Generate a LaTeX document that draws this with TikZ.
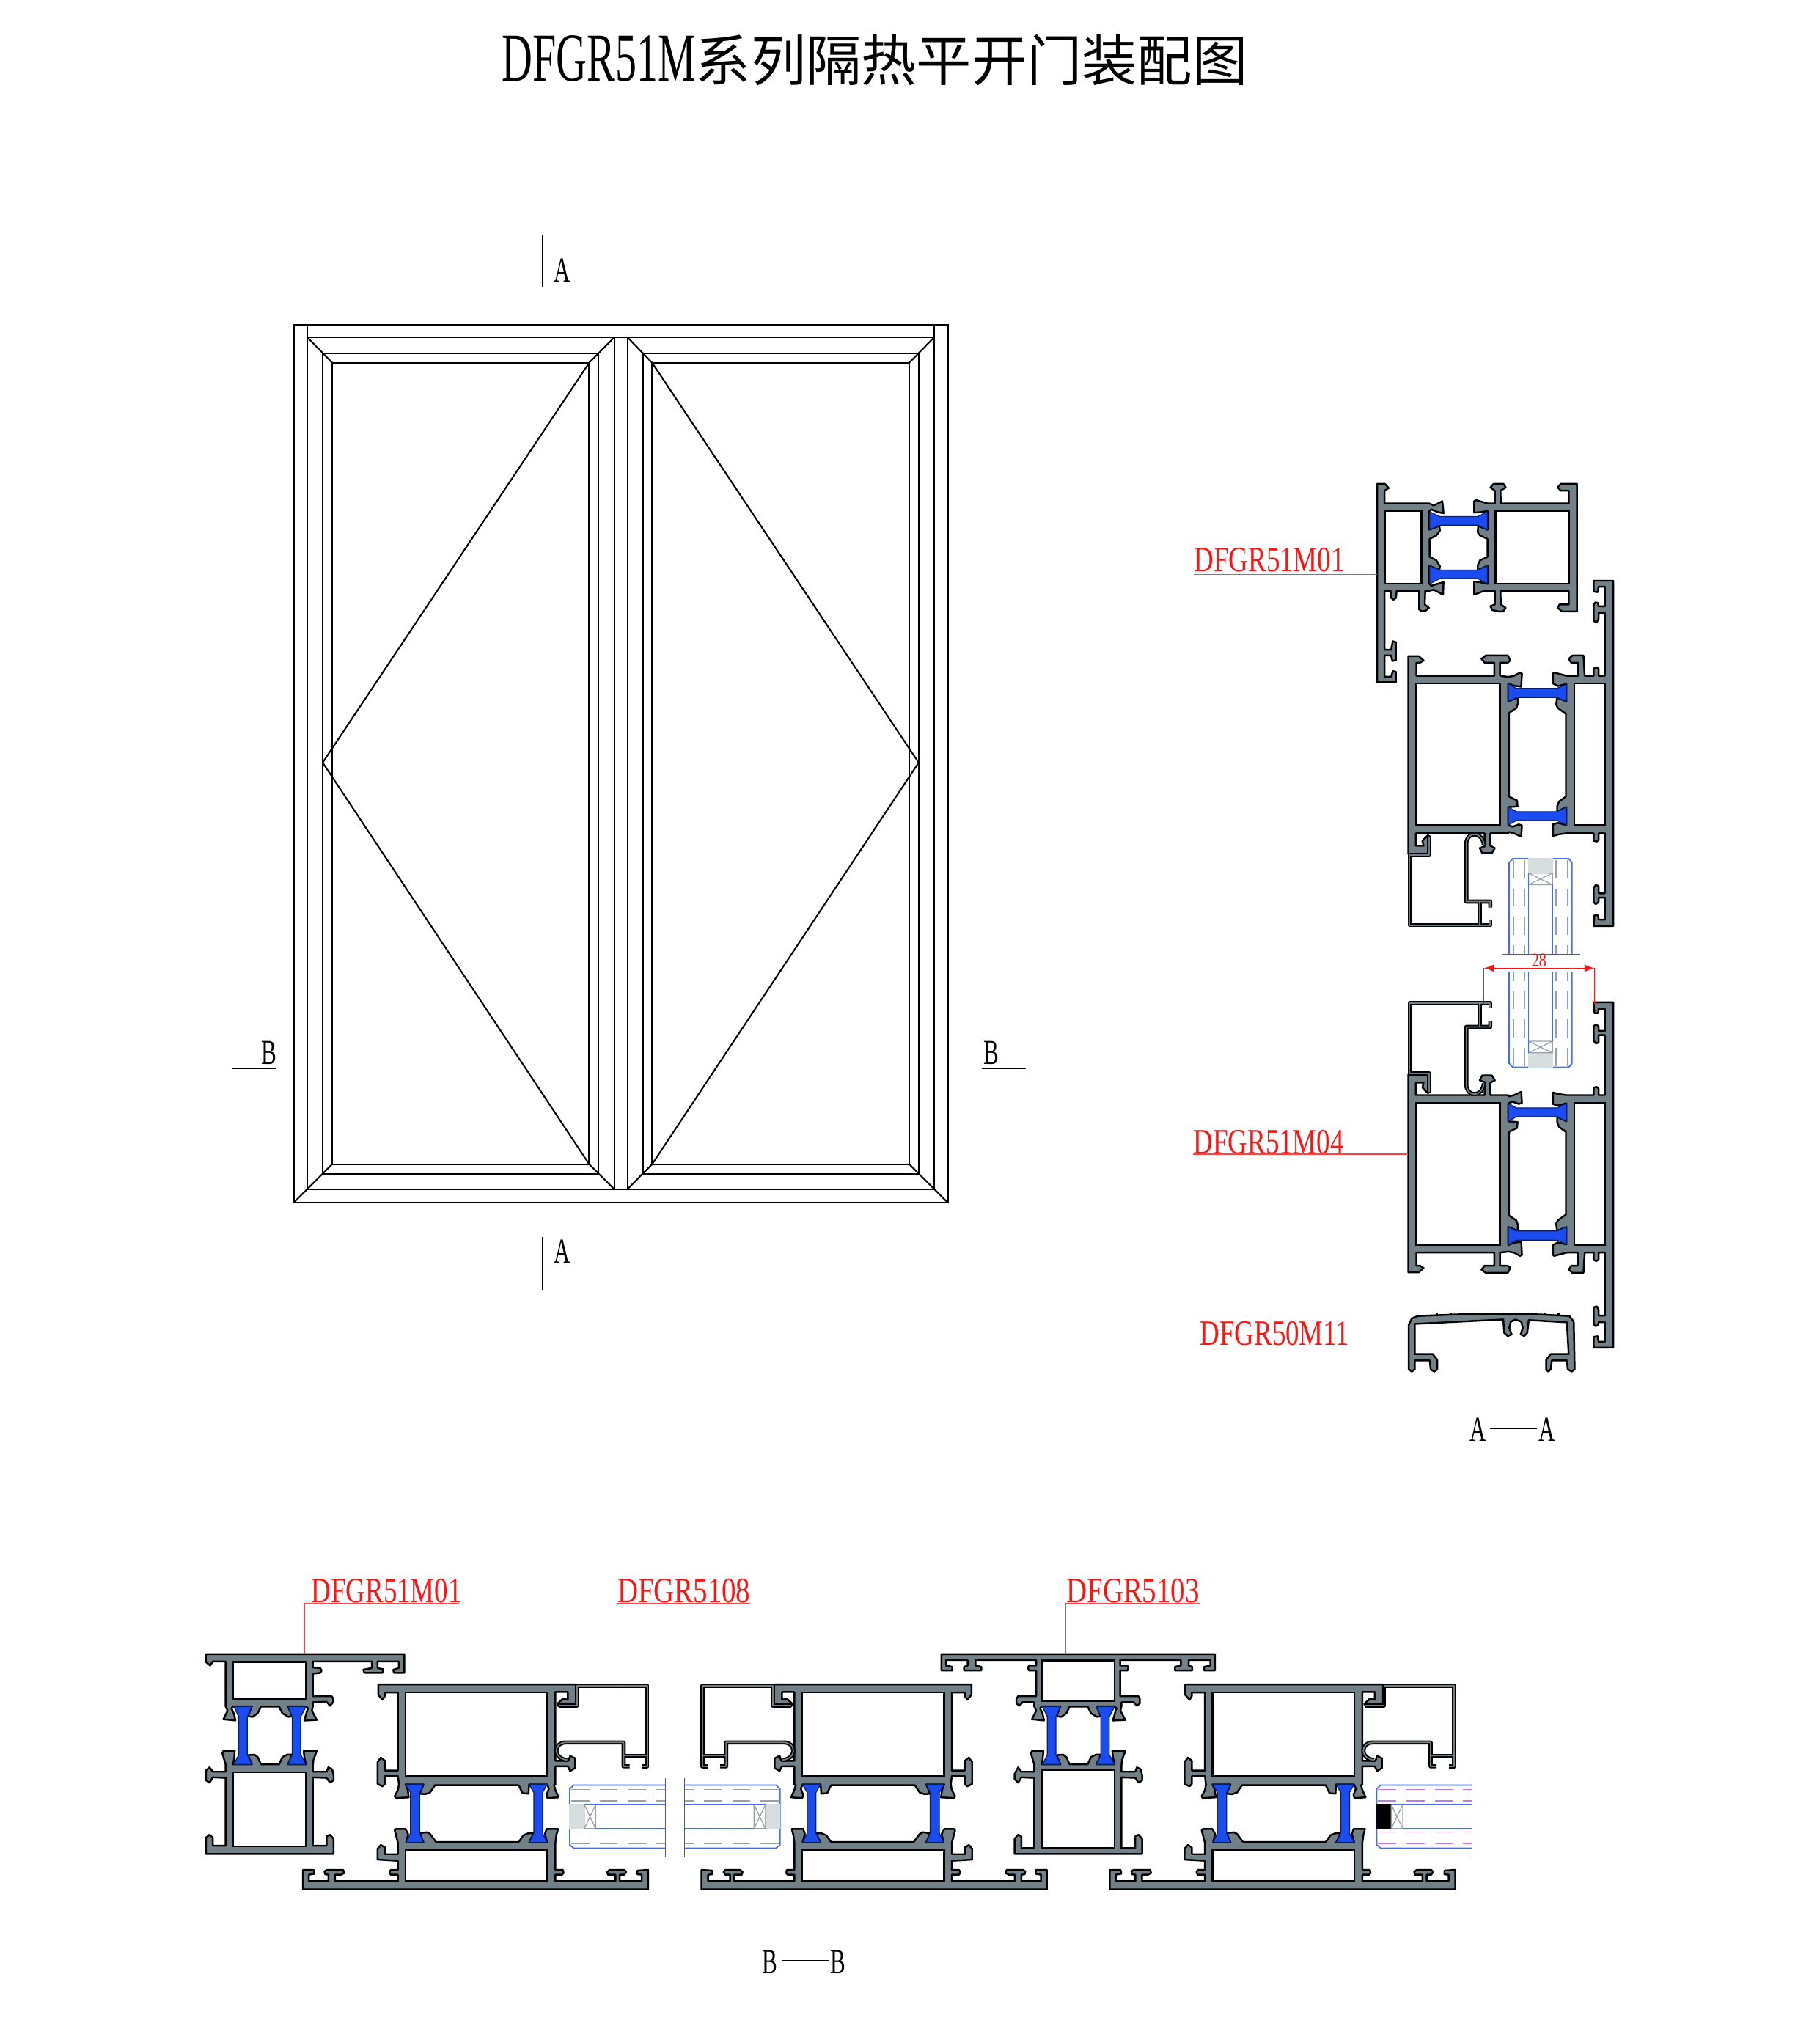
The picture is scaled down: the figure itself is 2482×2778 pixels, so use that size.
\documentclass[tikz,border=0pt]{standalone}
\usepackage{fontspec}
\setmainfont{Liberation Serif}
\newfontfamily\cjk{Noto Sans CJK SC}
\newfontfamily\titlefont[FakeStretch=0.62]{Liberation Serif}
\newfontfamily\partfont[FakeStretch=0.76]{Liberation Serif}
\newfontfamily\partwide[FakeStretch=0.80]{Liberation Serif}
\newfontfamily\secfont[FakeStretch=0.65]{Liberation Serif}
\definecolor{alugray}{RGB}{114,129,135}
\definecolor{breakblue}{RGB}{26,76,240}
\definecolor{glassblue}{RGB}{70,110,235}
\definecolor{glassblock}{RGB}{214,222,222}
\definecolor{dashgray}{RGB}{150,160,165}
\definecolor{dashpurple}{RGB}{190,120,240}
\definecolor{partred}{RGB}{255,20,20}
\tikzset{
	alu/.style={fill=alugray,draw=black,line width=0.7pt,line join=round},
	chamber/.style={fill=white,draw=black,line width=0.7pt},
	strip/.style={fill=breakblue,draw=black!60!breakblue,line width=0.35pt,line join=round},
	beadout/.style={draw=black,line width=1.6pt,line join=round},
	beadin/.style={draw=alugray,line width=0.5pt,line join=round},
	glassline/.style={draw=glassblue,line width=0.5pt},
	spacer/.style={draw=dashgray,line width=0.35pt},
	dashline/.style={line width=0.4pt,dash pattern=on 7pt off 4pt},
	breakline/.style={draw=partred,line width=0.35pt},
	leader/.style={draw=partred!80,line width=0.35pt},
	elev/.style={draw=black,line width=0.6pt},
	partlabel/.style={inner sep=0pt,anchor=south west,text=partred,font=\fontsize{13.8}{14}\selectfont\partfont},
	partlabelwide/.style={partlabel,font=\fontsize{13.8}{14}\selectfont\partwide},
	seclabel/.style={inner sep=0pt,font=\fontsize{13.6}{14}\selectfont\secfont},
	secline/.style={draw=black,line width=0.6pt},
	bbplain/.style={x={(0.004464cm,0cm)},y={(0cm,-0.003333cm)}},
	bbflip/.style={x={(-0.004464cm,0cm)},y={(0cm,-0.003333cm)}},
	aadown/.style={x={(0cm,-0.004464cm)},y={(0.003333cm,0cm)}},
	aaup/.style={x={(0cm,0.004464cm)},y={(0.003333cm,0cm)}},
	capview/.style={x={(0.004082cm,0cm)},y={(0cm,-0.004337cm)}}
}
\newcommand{\alupoly}[1]{\edef\polycmd{\noexpand\filldraw[alu] plot coordinates {#1} -- cycle;}\polycmd}
\newcommand{\railtop}{(132,545) (132,562) (129,580) (144,618) (106,620) (111,595) (117,570) (111,562) (56,562) (69,603) (57,605) (39,590) (29,563) (-26,563) (-36,590) (-51,605) (-66,603) (-54,562) (-111,562) (-116,570) (-108,595) (-104,620) (-141,615) (-128,580) (-134,562)}
\newcommand{\railbottom}{(-134,800) (-144,755) (-141,745) (-106,745) (-108,775) (-111,800) (-54,800) (-66,762) (-46,760) (-36,770) (-26,800) (29,800) (39,770) (54,760) (69,760) (56,800) (111,800) (106,770) (104,745) (144,745) (134,780) (132,805)}
\newcommand{\stripsframe}{
	\filldraw[strip] plot coordinates {(-109,563) (-54,563) (-68,605) (-68,760) (-54,800) (-109,800) (-94,760) (-94,605)} -- cycle;
	\filldraw[strip] plot coordinates {(56,563) (111,563) (95,605) (95,760) (111,800) (56,800) (69,760) (69,605)} -- cycle;
}
\newcommand{\frameone}{
	\alupoly{(-194,348) (411,348) (411,425) (379,425) (377,412) (394,405) (394,378) (329,378) (329,405) (346,410) (344,425) (289,425) (286,412) (312,405) (312,378) (132,378) (132,403) (154,405) (159,415) (154,425) (132,428) (132,520) (189,520) (194,530) (194,545) (184,560) (174,543) \railtop (-134,378) (-173,378) (-181,395) (-194,380)}
	\alupoly{\railbottom (132,830) (174,830) (179,812) (191,820) (195,845) (195,865) (184,875) (174,855) (132,853) (132,1133) (174,1133) (174,1095) (184,1088) (195,1105) (195,1167) (-194,1167) (-194,1100) (-183,1088) (-173,1100) (-173,1133) (-134,1133) (-134,855) (-173,853) (-183,875) (-194,865) (-194,825) (-183,812) (-173,830) (-134,830)}
	\filldraw[chamber] (-111,380) rectangle (111,530);
	\filldraw[chamber] (-111,833) rectangle (111,1135);
	\stripsframe
}
\newcommand{\framemid}{
	\alupoly{(-417,348) (417,348) (417,415) (384,415) (384,400) (403,395) (403,372) (337,372) (337,395) (348,400) (348,415) (295,415) (295,400) (313,395) (313,372) (128,372) (128,395) (150,395) (153,405) (150,415) (128,415) (128,520) (183,520) (188,530) (188,550) (179,560) (169,545) \railtop (-134,545) (-169,545) (-179,560) (-188,550) (-188,530) (-183,520) (-128,520) (-128,415) (-150,415) (-153,405) (-150,395) (-128,395) (-128,372) (-313,372) (-313,395) (-295,400) (-295,415) (-348,415) (-348,400) (-337,395) (-337,372) (-403,372) (-403,395) (-384,400) (-384,415) (-417,415)}
	\alupoly{\railbottom (132,830) (174,830) (179,812) (191,820) (195,845) (195,865) (184,875) (174,855) (132,853) (132,1143) (174,1143) (174,1095) (184,1088) (195,1105) (195,1167) (-194,1167) (-194,1105) (-183,1088) (-173,1095) (-173,1143) (-134,1143) (-134,855) (-173,853) (-183,875) (-194,860) (-194,840) (-183,812) (-173,830) (-134,830)}
	\filldraw[chamber] (-111,374) rectangle (111,540);
	\filldraw[chamber] (-111,822) rectangle (111,1143);
	\stripsframe
}
\newcommand{\sashprofile}{
	\alupoly{(572,472) (1175,472) (1175,562) (1122,562) (1118,552) (1135,530) (1150,535) (1150,503) (1112,503) (1112,785) (1152,785) (1157,765) (1172,775) (1172,815) (1157,827) (1150,808) (1112,808) (1112,882) (1108,885) (1112,905) (1122,935) (1088,938) (1085,925) (1092,900) (1087,882) (1032,882) (1030,920) (1012,918) (1000,885) (745,885) (730,915) (715,922) (698,920) (710,882) (655,882) (662,905) (665,935) (625,938) (622,930) (632,905) (635,882) (632,848) (592,848) (592,880) (585,890) (570,880) (570,790) (580,772) (592,785) (592,825) (632,825) (632,505) (592,505) (592,520) (585,535) (572,515)}
	\alupoly{(632,1122) (622,1070) (625,1065) (655,1065) (663,1085) (657,1120) (710,1120) (698,1082) (720,1078) (730,1085) (748,1118) (1000,1118) (1015,1090) (1030,1082) (1046,1082) (1032,1120) (1087,1120) (1080,1085) (1085,1065) (1120,1065) (1115,1090) (1112,1120) (1112,1232) (1135,1232) (1137,1245) (1132,1252) (1112,1252) (1112,1278) (1295,1278) (1295,1252) (1272,1252) (1270,1240) (1278,1232) (1322,1232) (1328,1240) (1322,1252) (1308,1252) (1308,1278) (1375,1278) (1375,1252) (1362,1250) (1362,1235) (1395,1232) (1395,1312) (342,1312) (342,1232) (375,1232) (377,1248) (360,1252) (360,1278) (420,1278) (420,1252) (410,1250) (408,1238) (415,1232) (465,1232) (468,1245) (458,1252) (440,1252) (440,1278) (632,1278) (632,1252) (610,1252) (606,1242) (610,1232) (632,1232) (632,1195) (570,1190) (570,1145) (580,1130) (592,1140) (592,1168) (632,1168)}
	\filldraw[chamber] (655,505) rectangle (1088,848);
	\filldraw[chamber] (655,1152) rectangle (1088,1278);
	\filldraw[strip] plot coordinates {(655,882) (710,882) (698,915) (698,1082) (710,1120) (657,1120) (670,1082) (670,915)} -- cycle;
	\filldraw[strip] plot coordinates {(1032,882) (1087,882) (1073,915) (1073,1082) (1087,1120) (1032,1120) (1046,1082) (1046,915)} -- cycle;
	\foreach \beadstyle in {beadout,beadin}{
		\draw[\beadstyle] (1122,558) -- (1178,558) -- (1178,478) -- (1392,478) -- (1392,808) -- (1376,808);
		\draw[\beadstyle] (1392,765) -- (1320,765);
		\draw[\beadstyle] (1338,808) -- (1320,808) -- (1320,710) -- (1145,710) .. controls (1125,710) and (1115,725) .. (1115,745) .. controls (1115,765) and (1130,780) .. (1148,782);
	}
}
\newcommand{\glassunit}[2]{
	\draw[glassline] (1447,885) -- (1168,885) -- (1156,900) -- (1156,1130) -- (1168,1143) -- (1447,1143);
	\filldraw[fill=#1,draw=#1,line width=0.4pt] (1156,965) rectangle (1200,1063);
	\draw[spacer] (1200,965) rectangle (1235,1063) (1200,965) -- (1235,1063) (1200,1063) -- (1235,965);
	\draw[glassline] (1200,965) -- (1447,965) (1235,1063) -- (1447,1063);
	\foreach \dashy in {903,950,1078,1126}
		\draw[dashline,draw=#2] (1160,\dashy) -- (1447,\dashy);
	\draw[breakline] (1447,855) -- (1447,1178);
}
\begin{document}
\begin{tikzpicture}[x=0.01cm,y=-0.01cm]
	\useasboundingbox (0,0) rectangle (2482,2778);
	\node[inner sep=0pt,font=\fontsize{26.6}{30}\selectfont\titlefont] (title) at (1193,82) {DFGR51M{\fontsize{21.4}{30}\selectfont\cjk 系列隔热平开门装配图}};

	\draw[elev] (400.7,442.7) rectangle (1292.5,1640);
	\draw[elev] (419,442.7) -- (419,1621.7) -- (1274,1621.7) -- (1274,442.7);
	\draw[elev] (419,460) -- (1274,460);
	\draw[elev] (400.7,1640) -- (419,1621.7) (1292.5,1640) -- (1274,1621.7);
	\draw[elev] (837.7,460) -- (837.7,1621.7) (855.7,460) -- (855.7,1621.7);
	\draw[elev] (440,481.7) rectangle (816.4,1600.7);
	\draw[elev] (453,494.7) rectangle (803.5,1587.7);
	\draw[elev] (419,460) -- (453,494.7) (837.7,460) -- (803.5,494.7) (419,1621.7) -- (453,1587.7) (837.7,1621.7) -- (803.5,1587.7);
	\draw[elev] (877,481.7) rectangle (1252.8,1600.7);
	\draw[elev] (889.3,494.7) rectangle (1240,1587.7);
	\draw[elev] (855.7,460) -- (889.3,494.7) (1274,460) -- (1240,494.7) (855.7,1621.7) -- (889.3,1587.7) (1274,1621.7) -- (1240,1587.7);
	\draw[elev] (803.5,494.7) -- (440,1040) -- (803.5,1587.7);
	\draw[elev] (889.3,494.7) -- (1252.8,1040) -- (889.3,1587.7);

	\coordinate (aoneup) at (740,320);
	\coordinate (aonedown) at (740,392);
	\coordinate (atwoup) at (740,1687);
	\coordinate (atwodown) at (740,1759);
	\coordinate (bonel) at (316.7,1456.7);
	\coordinate (boner) at (376,1456.7);
	\coordinate (btwol) at (1339,1456.7);
	\coordinate (btwor) at (1399,1456.7);
	\draw[secline] (aoneup) -- (aonedown);
	\draw[secline] (atwoup) -- (atwodown);
	\draw[secline] (bonel) -- (boner);
	\draw[secline] (btwol) -- (btwor);
	\node[seclabel] (aone) at (767,369) {A};
	\node[seclabel] (atwo) at (767,1707) {A};
	\node[seclabel] (bone) at (367,1436) {B};
	\node[seclabel] (btwo) at (1351.5,1435.5) {B};

	\begin{scope}[shift={(1762.3,746.6)},aadown]
		\frameone
	\end{scope}
	\begin{scope}[shift={(1763.4,639)},aadown]
		\sashprofile
	\end{scope}
	\begin{scope}[shift={(1763.4,654)},aadown]
		\glassunit{glassblock}{dashgray}
	\end{scope}
	\begin{scope}[shift={(1763.4,1990.9)},aaup]
		\sashprofile
	\end{scope}
	\begin{scope}[shift={(1763.4,1972.5)},aaup]
		\glassunit{glassblock}{dashgray}
	\end{scope}

	\coordinate (dimleft) at (2023.7,1320.3);
	\coordinate (dimright) at (2174.3,1320.3);
	\coordinate (extleft) at (2023.7,1369);
	\coordinate (extright) at (2174.3,1369);
	\draw[breakline] (dimleft) -- (extleft);
	\draw[breakline] (dimright) -- (extright);
	\draw[breakline,latex-latex] (dimleft) -- (dimright);
	\node[inner sep=0pt,text=partred,font=\fontsize{7.5}{8}\selectfont\partfont] (glassdim) at (2098.8,1309.5) {28};

	\begin{scope}[shift={(1600,1280)},capview]
		\alupoly{(785,1355) (785,1215) (795,1195) (815,1187) (1000,1180) (1220,1182) (1320,1187) (1335,1205) (1338,1355) (1328,1362) (1315,1355) (1312,1327) (1262,1327) (1258,1355) (1250,1362) (1243,1355) (1243,1325) (1258,1307) (1318,1307) (1312,1207) (1185,1200) (1180,1240) (1170,1250) (1158,1245) (1165,1225) (1160,1205) (1140,1198) (1125,1205) (1120,1225) (1128,1245) (1115,1250) (1103,1240) (1100,1198) (805,1212) (805,1307) (865,1307) (880,1325) (880,1355) (870,1362) (858,1355) (855,1327) (805,1327) (805,1355) (795,1362)}
		\foreach \ridge in {880,925,970,1015,1060,1105,1150,1195,1240,1285}
			\draw[line width=0.8pt] (\ridge,1184) -- (\ridge,1177);
	\end{scope}

	\coordinate (partonestart) at (1628,783.5);
	\coordinate (partoneend) at (1878,783.5);
	\coordinate (partfourstart) at (1627,1574);
	\coordinate (partfourend) at (1920,1574);
	\coordinate (partelevenstart) at (1627,1835.5);
	\coordinate (partelevenend) at (1920,1835.5);
	\node[partlabel] (partone) at (1628,781) {DFGR51M01};
	\node[partlabel] (partfour) at (1627,1575) {DFGR51M04};
	\node[partlabel] (parteleven) at (1636,1836) {DFGR50M11};
	\draw[leader] (partonestart) -- (partoneend);
	\draw[leader] (partfourstart) -- (partfourend);
	\draw[leader] (partelevenstart) -- (partelevenend);

	\node[seclabel] (aleft) at (2016,1950) {A};
	\node[seclabel] (aright) at (2109.5,1950) {A};
	\coordinate (alinel) at (2031.7,1947.7);
	\coordinate (aliner) at (2096,1947.7);
	\draw[secline] (alinel) -- (aliner);

	\begin{scope}[shift={(367.6,2140)},bbplain]
		\frameone
	\end{scope}
	\begin{scope}[shift={(260,2140)},bbplain]
		\sashprofile
		\glassunit{glassblock}{dashgray}
	\end{scope}
	\begin{scope}[shift={(1580.7,2140)},bbflip]
		\sashprofile
		\glassunit{glassblock}{dashgray}
	\end{scope}
	\begin{scope}[shift={(1470.3,2140)},bbplain]
		\framemid
	\end{scope}
	\begin{scope}[shift={(1360.5,2140)},bbplain]
		\sashprofile
		\glassunit{black}{dashpurple}
	\end{scope}

	\coordinate (bbonestart) at (415,2186.5);
	\coordinate (bboneend) at (415,2255);
	\coordinate (bbonefar) at (626,2186.5);
	\coordinate (bbeightstart) at (841.5,2186.5);
	\coordinate (bbeightend) at (841.5,2297);
	\coordinate (bbeightfar) at (1023,2186.5);
	\coordinate (bbthreestart) at (1453.7,2186.5);
	\coordinate (bbthreeend) at (1453.7,2255);
	\coordinate (bbthreefar) at (1636,2186.5);
	\node[partlabel] (bbone) at (424,2187) {DFGR51M01};
	\node[partlabelwide] (bbeight) at (841.5,2187) {DFGR5108};
	\node[partlabelwide] (bbthree) at (1453.7,2187) {DFGR5103};
	\draw[leader] (bbonefar) -- (bbonestart) -- (bboneend);
	\draw[leader] (bbeightfar) -- (bbeightstart) -- (bbeightend);
	\draw[leader] (bbthreefar) -- (bbthreestart) -- (bbthreeend);

	\node[seclabel] (bleft) at (1050,2676) {B};
	\node[seclabel] (bright) at (1143,2676) {B};
	\coordinate (blinel) at (1065.7,2674);
	\coordinate (bliner) at (1130,2674);
	\draw[secline] (blinel) -- (bliner);
\end{tikzpicture}
\end{document}
